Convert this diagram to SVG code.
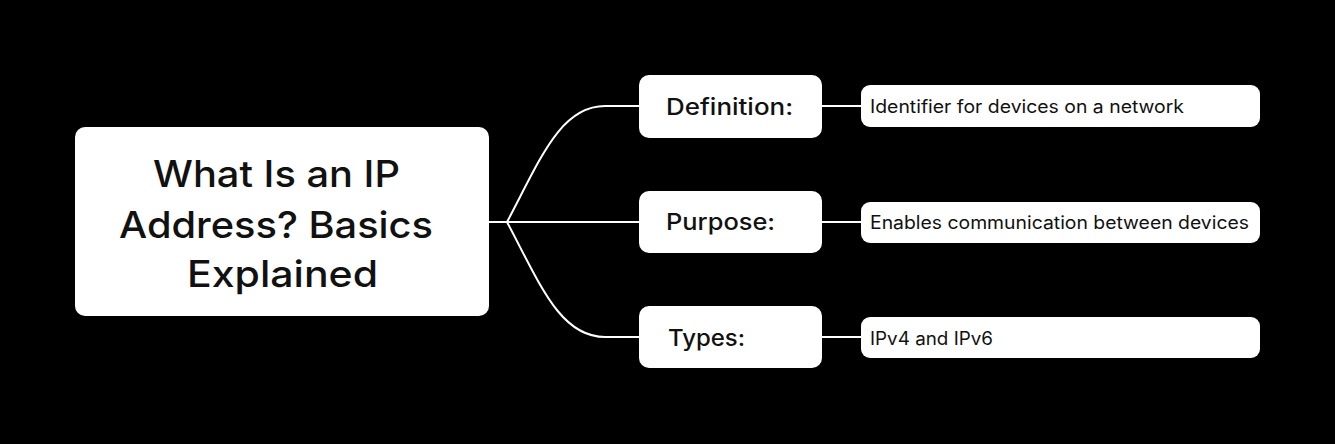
<svg xmlns="http://www.w3.org/2000/svg" width="1335" height="444" viewBox="0 0 1335 444">
<style>
.box{fill:#ffffff;}
.conn{fill:none;stroke:#ffffff;stroke-width:2;}
.title{font-family:Inter,"Noto Sans",sans-serif;font-size:37px;font-weight:500;fill:#111111;}
.mid{font-family:Inter,"Noto Sans",sans-serif;font-size:23px;font-weight:500;fill:#111111;}
.leaf{font-family:Inter,"Noto Sans",sans-serif;font-size:18px;font-weight:400;fill:#111111;}
</style>
<rect x="0" y="0" width="1335" height="444" fill="#000000"/>
<g id="connectors">
<path class="conn" d="M489,222 L507,222"/>
<path class="conn" d="M507,222 C540,160 560,106 605,106 L639,106"/>
<path class="conn" d="M507,222 L639,222"/>
<path class="conn" d="M507,222 C540,284 560,337 605,337 L639,337"/>
<path class="conn" d="M822,106 L861,106"/>
<path class="conn" d="M822,222 L861,222"/>
<path class="conn" d="M822,337 L861,337"/>
</g>
<g id="root">
<rect class="box" x="75" y="127" width="414" height="189" rx="10"/>
<text class="title" x="153" y="187" textLength="247" lengthAdjust="spacingAndGlyphs">What Is an IP</text>
<text class="title" x="119" y="238" textLength="314" lengthAdjust="spacingAndGlyphs">Address? Basics</text>
<text class="title" x="187" y="287" textLength="191" lengthAdjust="spacingAndGlyphs">Explained</text>
</g>
<g id="definition">
<rect class="box" x="639" y="75" width="183" height="63" rx="10"/>
<text class="mid" x="666" y="115" textLength="127" lengthAdjust="spacingAndGlyphs">Definition:</text>
</g>
<g id="purpose">
<rect class="box" x="639" y="191" width="183" height="62" rx="10"/>
<text class="mid" x="666" y="230" textLength="109" lengthAdjust="spacingAndGlyphs">Purpose:</text>
</g>
<g id="types">
<rect class="box" x="639" y="306" width="183" height="62" rx="10"/>
<text class="mid" x="668" y="346" textLength="77" lengthAdjust="spacingAndGlyphs">Types:</text>
</g>
<g id="definition-detail">
<rect class="box" x="861" y="85" width="399" height="42" rx="9"/>
<text class="leaf" x="870" y="113" textLength="314" lengthAdjust="spacingAndGlyphs">Identifier for devices on a network</text>
</g>
<g id="purpose-detail">
<rect class="box" x="861" y="202" width="399" height="41" rx="9"/>
<text class="leaf" x="870" y="229" textLength="379" lengthAdjust="spacingAndGlyphs">Enables communication between devices</text>
</g>
<g id="types-detail">
<rect class="box" x="861" y="317" width="399" height="41" rx="9"/>
<text class="leaf" x="870" y="345" textLength="123" lengthAdjust="spacingAndGlyphs">IPv4 and IPv6</text>
</g>
</svg>
